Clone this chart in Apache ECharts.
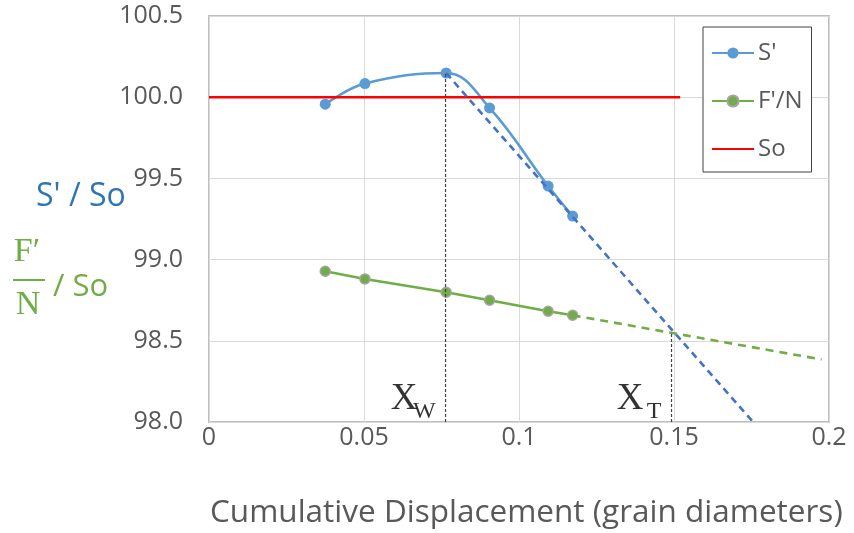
<!DOCTYPE html>
<html>
<head>
<meta charset="utf-8">
<script src="https://cdn.jsdelivr.net/npm/echarts@6/dist/echarts.min.js"></script>
<style>
  html, body { margin: 0; padding: 0; background: #fff; }
  #chart { width: 854px; height: 533px; }
</style>
</head>
<body>
<div id="chart"></div>
<script>
// Measured displacement (grain diameters) and normalised stresses
const displacement = [0.0375, 0.0503, 0.0765, 0.0905, 0.1094, 0.1173];
const sPrime = [99.957, 100.084, 100.149, 99.934, 99.453, 99.268];
const fPrimeN = [98.928, 98.881, 98.799, 98.750, 98.682, 98.657];

// Reference level So
const soX = [0, 0.152];
const soY = [100.0, 100.0];

// Linear extrapolations
const sTrendX = [0.0765, 0.1755];
const sTrendY = [100.149, 98.0];
const fTrendX = [0.1173, 0.1976];
const fTrendY = [98.657, 98.385];

// Marked displacements X_W (peak) and X_T (intersection)
const xW = 0.0763, yW = 100.149;
const xT = 0.1492, yT = 98.545;

// Axis ticks
const xTicks = [0, 0.05, 0.1, 0.15, 0.2];
const xTickLabels = ['0', '0.05', '0.1', '0.15', '0.2'];
const yTicks = [98.0, 98.5, 99.0, 99.5, 100.0, 100.5];
const yTickLabels = ['98.0', '98.5', '99.0', '99.5', '100.0', '100.5'];

const pairs = (xs, ys) => xs.map((x, i) => [x, ys[i]]);

const chart = echarts.init(document.getElementById('chart'), null, { renderer: 'canvas' });

const sans = '"Open Sans", "Noto Sans", sans-serif';
const serif = '"Liberation Serif", "DejaVu Serif", serif';
const grey = '#595959';

const dotted = { color: '#404040', width: 1.2, type: [3, 2] };

// Serif "X" with a lowered subscript, anchored on the bottom axis at a displacement
function annotation(x, sub) {
  const base = { symbolSize: 0 };
  return [
    Object.assign({ value: [x, yTicks[0]], label: {
      formatter: 'X', distance: 28, offset: [0, -22.5],
      fontFamily: serif, fontSize: 37, color: '#000'
    } }, base),
    Object.assign({ value: [x, yTicks[0]], label: {
      formatter: sub, distance: 10, offset: [0, -10.5],
      fontFamily: serif, fontSize: 24, color: '#000'
    } }, base)
  ];
}

chart.setOption({
  animation: false,
  backgroundColor: '#ffffff',
  grid: {
    left: 209, right: 25, top: 16, bottom: 111,
    show: true, borderColor: '#BFBFBF', borderWidth: 2, backgroundColor: 'transparent'
  },
  legend: {
    data: ["S'", "F'/N", 'So'],
    orient: 'vertical',
    left: 703, top: 27,
    padding: [14, 9, 11, 8],
    itemWidth: 42, itemHeight: 14, itemGap: 24,
    backgroundColor: '#ffffff',
    borderColor: '#404040', borderWidth: 1, borderRadius: 0,
    textStyle: { fontFamily: sans, fontSize: 24, color: grey, padding: [0, 0, 0, -1] }
  },
  xAxis: {
    type: 'value',
    min: xTicks[0], max: xTicks[xTicks.length - 1], interval: 0.05,
    axisLine: { show: false }, axisTick: { show: false },
    splitLine: { lineStyle: { color: '#D9D9D9', width: 1 } },
    axisLabel: {
      fontFamily: sans, fontSize: 25, color: grey, margin: 3,
      formatter: v => xTickLabels[xTicks.findIndex(t => Math.abs(t - v) < 1e-9)] ?? ''
    }
  },
  yAxis: {
    type: 'value',
    min: yTicks[0], max: yTicks[yTicks.length - 1], interval: 0.5,
    axisLine: { show: false }, axisTick: { show: false },
    splitLine: { lineStyle: { color: '#D9D9D9', width: 1 } },
    axisLabel: {
      fontFamily: sans, fontSize: 25, color: grey, margin: 26,
      formatter: v => yTickLabels[yTicks.findIndex(t => Math.abs(t - v) < 1e-9)] ?? ''
    }
  },
  graphic: [
    { type: 'text', x: 210, y: 513,
      style: { text: 'Cumulative Displacement (grain diameters)', font: '31.5px ' + sans, fill: grey, textVerticalAlign: 'middle' } },
    { type: 'text', x: 36, y: 197,
      style: { text: "S' / So", font: '32px ' + sans, fill: '#2E75B6', textVerticalAlign: 'middle' } },
    { type: 'text', x: 27, y: 252,
      style: { text: 'F\u2032', font: '34px ' + serif, fill: '#70AD47', textAlign: 'center', textVerticalAlign: 'middle' } },
    { type: 'line', shape: { x1: 13, y1: 280, x2: 45, y2: 280 }, style: { stroke: '#70AD47', lineWidth: 2 } },
    { type: 'text', x: 28, y: 305,
      style: { text: 'N', font: '34px ' + serif, fill: '#70AD47', textAlign: 'center', textVerticalAlign: 'middle' } },
    { type: 'text', x: 53, y: 287,
      style: { text: '/ So', font: '31px ' + sans, fill: '#70AD47', textVerticalAlign: 'middle' } }
  ],
  series: [
    {
      name: "S'", type: 'line', smooth: 0.4,
      data: pairs(displacement, sPrime),
      symbol: 'circle', symbolSize: 11,
      lineStyle: { color: '#5B9BD5', width: 2.6 },
      itemStyle: { color: '#5B9BD5' }, z: 3
    },
    {
      name: "F'/N", type: 'line',
      data: pairs(displacement, fPrimeN),
      symbol: 'circle', symbolSize: 10,
      lineStyle: { color: '#70AD47', width: 2.6 },
      itemStyle: { color: '#70AD47', borderColor: '#A5A5A5', borderWidth: 1.5 }, z: 3
    },
    {
      name: 'So', type: 'line',
      data: pairs(soX, soY),
      symbol: 'none',
      lineStyle: { color: '#FF0000', width: 2.6 },
      itemStyle: { color: 'rgba(0,0,0,0)' }, z: 4
    },
    {
      name: "S' trend", type: 'line',
      data: pairs(sTrendX, sTrendY), symbol: 'none', silent: true,
      lineStyle: { color: '#4472C4', width: 2.6, type: [7, 5] }, z: 5
    },
    {
      name: "F'/N trend", type: 'line',
      data: pairs(fTrendX, fTrendY), symbol: 'none', silent: true,
      lineStyle: { color: '#70AD47', width: 2.6, type: [8, 6] }, z: 5
    },
    {
      name: 'X_W line', type: 'line',
      data: [[xW, yTicks[0]], [xW, yW]], symbol: 'none', silent: true,
      lineStyle: dotted, z: 6
    },
    {
      name: 'X_T line', type: 'line',
      data: [[xT, yTicks[0]], [xT, yT]], symbol: 'none', silent: true,
      lineStyle: dotted, z: 6
    },
    {
      name: 'labels', type: 'scatter', symbolSize: 0, silent: true, z: 7,
      data: annotation(xW, 'W').concat(annotation(xT, 'T')),
      label: { show: true, position: 'left' }
    }
  ]
});
</script>
</body>
</html>
